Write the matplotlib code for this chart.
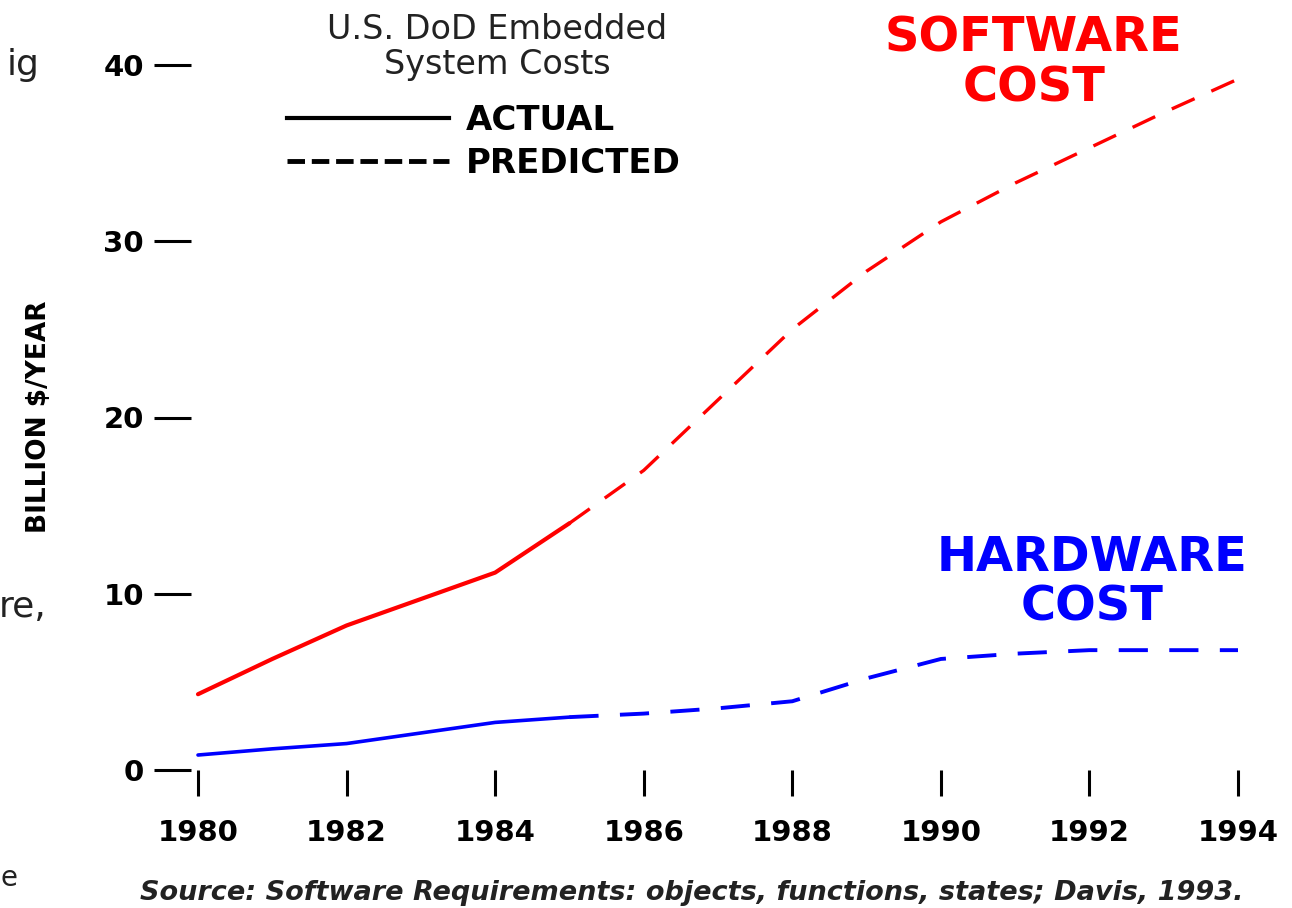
import matplotlib
matplotlib.use("Agg")
import matplotlib.pyplot as plt
from matplotlib.lines import Line2D

# ---- data ----
years = [1980, 1981, 1982, 1983, 1984, 1985, 1986, 1987, 1988, 1989, 1990, 1991, 1992, 1993, 1994]
software_cost = [4.3, 6.3, 8.2, 9.7, 11.2, 14.0, 17.0, 21.0, 25.0, 28.3, 31.1, 33.3, 35.3, 37.3, 39.2]
hardware_cost = [0.85, 1.2, 1.5, 2.1, 2.7, 3.0, 3.2, 3.5, 3.9, 5.2, 6.3, 6.6, 6.8, 6.8, 6.8]
last_actual_year = 1985
x_ticks = [1980, 1982, 1984, 1986, 1988, 1990, 1992, 1994]
y_ticks = [0, 10, 20, 30, 40]

title_text = "U.S. DoD Embedded\nSystem Costs"
legend_labels = ["ACTUAL", "PREDICTED"]
ylabel_text = "BILLION $/YEAR"
software_label = "SOFTWARE\nCOST"
hardware_label = "HARDWARE\nCOST"
source_text = "Source: Software Requirements: objects, functions, states; Davis, 1993."

W, H = 1292, 908
fig = plt.figure(figsize=(W / 100, H / 100), dpi=100)
fig.patch.set_facecolor("white")

x0, x1 = 198, 1238
y0, y1 = 770, 65
ax = fig.add_axes([x0 / W, (H - y0) / H, (x1 - x0) / W, (y0 - y1) / H])
ax.set_xlim(1980, 1994)
ax.set_ylim(0, 40)

split = years.index(last_actual_year)
dash = (7.5, 5.5)

red = "#ff0000"
blue = "#0000ff"

ax.plot(years[:split + 1], software_cost[:split + 1], color=red, lw=3.0,
        solid_capstyle="round", clip_on=False)
ax.plot(years[split:], software_cost[split:], color=red, lw=2.4,
        linestyle=(0, dash), clip_on=False)
ax.plot(years[:split + 1], hardware_cost[:split + 1], color=blue, lw=2.6,
        solid_capstyle="round", clip_on=False)
ax.plot(years[split:], hardware_cost[split:], color=blue, lw=2.8,
        linestyle=(0, dash), clip_on=False)

for s in ax.spines.values():
    s.set_visible(False)
ax.spines["left"].set_position(("outward", 5))

ax.set_xticks(x_ticks)
ax.set_xticklabels([str(v) for v in x_ticks])
ax.set_yticks(y_ticks)
ax.set_yticklabels([str(v) for v in y_ticks])
ax.tick_params(axis="x", direction="out", length=19, width=2.2, pad=16,
               labelsize=21, colors="black")
ax.tick_params(axis="y", direction="out", length=27, width=2.2, pad=7,
               labelsize=21, colors="black")
for lab in ax.get_xticklabels() + ax.get_yticklabels():
    lab.set_fontweight("bold")

fig.text(39 / W, 1 - 417 / H, ylabel_text, rotation=90, ha="center", va="center",
         fontsize=19, fontweight="bold")

fig.text(497 / W, 1 - 47 / H, title_text, ha="center", va="center",
         fontsize=24, linespacing=1.05, color="#222222")

handles = [Line2D([], [], color="black", lw=3.0),
           Line2D([], [], color="black", lw=3.5, linestyle=(0, (3.6, 1.4)))]
leg = ax.legend(handles, legend_labels, loc="upper left",
                bbox_to_anchor=(287 / W, 1 - 104 / H), bbox_transform=fig.transFigure,
                frameon=False, borderpad=0, borderaxespad=0, handlelength=4.75,
                handletextpad=0.5, labelspacing=0.3,
                prop={"size": 24.5, "weight": "bold"})

ax.text(1034 / W, 1 - 63 / H, software_label, transform=fig.transFigure,
        ha="center", va="center", color=red, fontsize=34.5, fontweight="bold",
        linespacing=1.08)
ax.text(1092 / W, 1 - 582 / H, hardware_label, transform=fig.transFigure,
        ha="center", va="center", color=blue, fontsize=34.5, fontweight="bold",
        linespacing=1.08)

fig.text(692 / W, 1 - 893 / H, source_text, ha="center", va="center",
         fontsize=19.5, style="italic", fontweight="bold", color="#222222")

# cut-off fragments from neighbouring page
fig.text(40 / W, 1 - 65 / H, "ig", ha="right", va="center", fontsize=26, color="#222222")
fig.text(46 / W, 1 - 607 / H, "re,", ha="right", va="center", fontsize=26, color="#222222")
fig.text(0.5 / W, 1 - 878 / H, "e", ha="left", va="center", fontsize=20, color="#222222")

fig.savefig("out.png", dpi=100, facecolor="white")
